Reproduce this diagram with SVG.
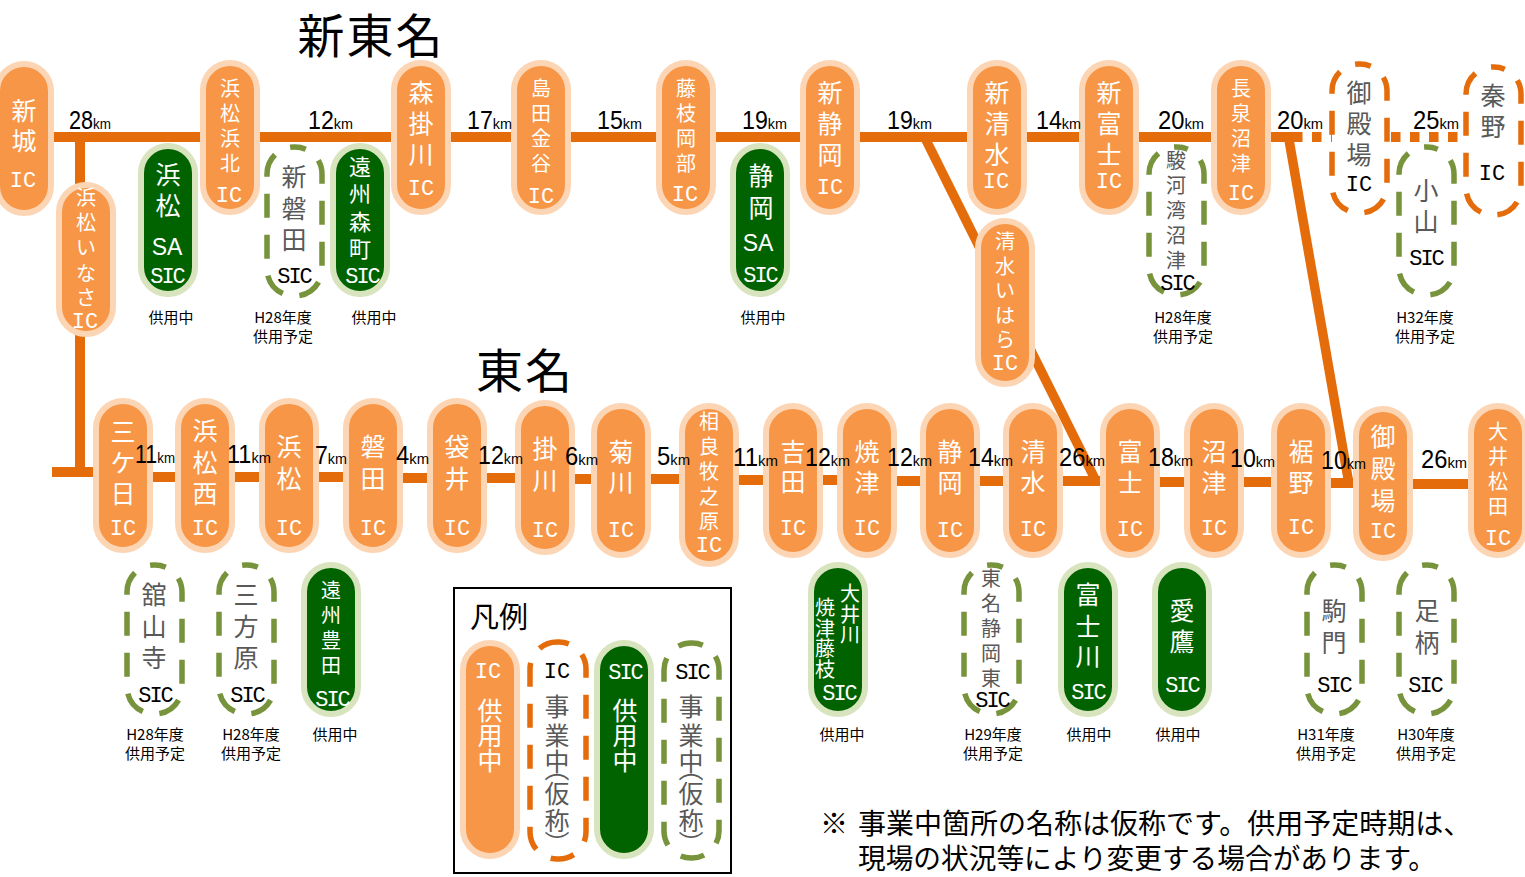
<svg xmlns="http://www.w3.org/2000/svg" width="1525" height="877" viewBox="0 0 1525 877">
<style>
text{font-family:"Noto Sans CJK JP","Noto Sans",sans-serif;text-anchor:middle}
.road{stroke:#E46C0A;stroke-width:10;fill:none}
.dot{stroke-dasharray:9.5 9.5}
.ic,.sic{stroke-width:6}
.ic{fill:#F79646;stroke:#FCD5B5}
.sic{fill:#006300;stroke:#D7E4BD}
.dic,.dsic{fill:none;stroke-width:5.5;stroke-dasharray:24 17;stroke-dashoffset:12}
.dic{stroke:#E46C0A}
.dsic{stroke:#77933C}
.w{fill:#fff}.g{fill:#595959}.k{fill:#000}
.s25{font-size:25px}.s20{font-size:20px}.s22{font-size:22px}
.l{font-family:"Liberation Mono",monospace;font-size:22px}
.l3{font-family:"Liberation Mono",monospace;font-size:22px;letter-spacing:-2px}
.sa{font-family:"Liberation Sans",sans-serif;font-size:23px}
.km{font-family:"Liberation Sans",Arial,sans-serif;font-size:25px;fill:#000;text-anchor:start}
.km tspan{font-size:15.5px}
.st{font-size:15px;fill:#000}
.ttl{font-size:47px;fill:#000;letter-spacing:2px}
.note{font-size:28px;fill:#000;text-anchor:start}
</style>
<g id="connectors">
<line class="road" x1="50" y1="137" x2="202" y2="137"/>
<line class="road" x1="258" y1="137" x2="394" y2="137"/>
<line class="road" x1="449" y1="137" x2="513" y2="137"/>
<line class="road" x1="568" y1="137" x2="658" y2="137"/>
<line class="road" x1="714" y1="137" x2="802" y2="137"/>
<line class="road" x1="858" y1="137" x2="970" y2="137"/>
<line class="road" x1="1025" y1="137" x2="1082" y2="137"/>
<line class="road" x1="1137" y1="137" x2="1214" y2="137"/>
<line class="road" x1="1270" y1="137" x2="1293" y2="137"/>
<line class="road dot" x1="1293" y1="137" x2="1332" y2="137"/>
<line class="road dot" x1="1391" y1="137" x2="1463" y2="137"/>
<line class="road" x1="80" y1="132" x2="80" y2="477"/>
<line class="road" x1="52" y1="472" x2="98" y2="472"/>
<line class="road" style="stroke-width:9.5" x1="923" y1="134" x2="1097" y2="483"/>
<line class="road" style="stroke-width:9.5" x1="1288" y1="134" x2="1349" y2="484"/>
<line class="road" x1="150" y1="477" x2="178" y2="477"/>
<line class="road" x1="232" y1="477" x2="262" y2="477"/>
<line class="road" x1="316" y1="477" x2="346" y2="477"/>
<line class="road" x1="400" y1="478" x2="430" y2="478"/>
<line class="road" x1="484" y1="478" x2="518" y2="478"/>
<line class="road" x1="572" y1="479" x2="594" y2="479"/>
<line class="road" x1="648" y1="479" x2="682" y2="479"/>
<line class="road" x1="736" y1="480" x2="766" y2="480"/>
<line class="road" x1="820" y1="480" x2="840" y2="480"/>
<line class="road" x1="894" y1="481" x2="923" y2="481"/>
<line class="road" x1="977" y1="481" x2="1006" y2="481"/>
<line class="road" x1="1060" y1="481" x2="1103" y2="481"/>
<line class="road" x1="1157" y1="482" x2="1187" y2="482"/>
<line class="road" x1="1241" y1="482" x2="1274" y2="482"/>
<line class="road" x1="1328" y1="483" x2="1356" y2="483"/>
<line class="road" x1="1410" y1="484" x2="1471" y2="484"/>
</g>
<g id="titles">
<text class="ttl" x="371" y="53">新東名</text>
<text class="ttl" x="525" y="388">東名</text>
</g>
<g id="shinichi"><rect class="ic" x="-3" y="64" width="54" height="149" rx="27"/><text class="w s25" x="24 24" y="120 150">新城</text><text class="w l" x="23" y="187">IC</text></g>
<g id="hamamatsu-inasa"><rect class="ic" x="59" y="185" width="54" height="149" rx="27"/><text class="w s20" x="86 86 86 86 86" y="205 230 255 281 305">浜松いなさ</text><text class="w l" x="85" y="328">IC</text></g>
<g id="hamamatsu-sa"><rect class="sic" x="141" y="146" width="54" height="148" rx="27"/><text class="w s25" x="168 168" y="184 215">浜松</text><text class="w sa" x="167" y="255">SA</text><text class="w l3" x="167" y="283">SIC</text></g>
<g id="hamamatsu-hamakita"><rect class="ic" x="203" y="63" width="54" height="149" rx="27"/><text class="w s20" x="230 230 230 230" y="96 121 146 171">浜松浜北</text><text class="w l" x="229" y="202">IC</text></g>
<g id="shin-iwata"><rect class="dsic" x="267" y="147" width="55" height="149" rx="27"/><text class="g s25" x="294 294 294" y="186 218 249">新磐田</text><text class="k l3" x="294" y="283">SIC</text></g>
<g id="enshu-morimachi"><rect class="sic" x="333" y="146" width="54" height="148" rx="27"/><text class="w s22" x="360 360 360 360" y="175 202 230 257">遠州森町</text><text class="w l3" x="362" y="283">SIC</text></g>
<g id="mori-kakegawa"><rect class="ic" x="394" y="63" width="54" height="149" rx="27"/><text class="w s25" x="421 421 421" y="102 133 164">森掛川</text><text class="w l" x="421" y="195">IC</text></g>
<g id="shimada-kanaya"><rect class="ic" x="514" y="63" width="54" height="149" rx="27"/><text class="w s20" x="541 541 541 541" y="96 121 146 171">島田金谷</text><text class="w l" x="541" y="203">IC</text></g>
<g id="fujieda-okabe"><rect class="ic" x="659" y="63" width="54" height="149" rx="27"/><text class="w s20" x="686 686 686 686" y="96 121 146 171">藤枝岡部</text><text class="w l" x="685" y="201">IC</text></g>
<g id="shizuoka-sa"><rect class="sic" x="733" y="146" width="54" height="148" rx="27"/><text class="w s25" x="761 761" y="185 217">静岡</text><text class="w sa" x="758" y="251">SA</text><text class="w l3" x="760" y="282">SIC</text></g>
<g id="shin-shizuoka"><rect class="ic" x="803" y="63" width="54" height="149" rx="27"/><text class="w s25" x="830 830 830" y="102 133 164">新静岡</text><text class="w l" x="830" y="194">IC</text></g>
<g id="shin-shimizu"><rect class="ic" x="970" y="63" width="54" height="149" rx="27"/><text class="w s25" x="997 997 997" y="102 133 164">新清水</text><text class="w l" x="996" y="188">IC</text></g>
<g id="shimizu-ihara"><rect class="ic" x="978" y="221" width="54" height="163" rx="27"/><text class="w s20" x="1005 1005 1005 1005 1005" y="249 274 298 323 347">清水いはら</text><text class="w l" x="1005" y="370">IC</text></g>
<g id="shin-fuji"><rect class="ic" x="1082" y="63" width="54" height="149" rx="27"/><text class="w s25" x="1109 1109 1109" y="102 133 164">新富士</text><text class="w l" x="1109" y="188">IC</text></g>
<g id="surugawan-numazu"><rect class="dsic" x="1149" y="147" width="55" height="148" rx="27"/><text class="g s20" x="1176 1176 1176 1176 1176" y="168 193 218 243 268">駿河湾沼津</text><text class="k l3" x="1177" y="290">SIC</text></g>
<g id="nagaizumi-numazu"><rect class="ic" x="1214" y="63" width="54" height="149" rx="27"/><text class="w s20" x="1241 1241 1241 1241" y="96 121 146 171">長泉沼津</text><text class="w l" x="1241" y="200">IC</text></g>
<g id="gotemba-shin"><rect class="dic" x="1332" y="64" width="55" height="149" rx="27"/><text class="g s25" x="1359 1359 1359" y="102 133 164">御殿場</text><text class="k l" x="1359" y="191">IC</text></g>
<g id="oyama"><rect class="dsic" x="1399" y="147" width="55" height="148" rx="27"/><text class="g s25" x="1426 1426" y="200 231">小山</text><text class="k l3" x="1426" y="265">SIC</text></g>
<g id="hadano"><rect class="dic" x="1466" y="67" width="55" height="148" rx="27"/><text class="g s25" x="1493 1493" y="105 136">秦野</text><text class="k l" x="1492" y="180">IC</text></g>

<g id="mikkabi"><rect class="ic" x="96" y="401" width="54" height="149" rx="27"/><text class="w s25" x="123 123 123" y="441 472 503">三ケ日</text><text class="w l" x="123" y="535">IC</text></g>
<g id="hamamatsu-nishi"><rect class="ic" x="178" y="401" width="54" height="149" rx="27"/><text class="w s25" x="205 205 205" y="440 472 503">浜松西</text><text class="w l" x="205" y="535">IC</text></g>
<g id="hamamatsu"><rect class="ic" x="262" y="401" width="54" height="149" rx="27"/><text class="w s25" x="289 289" y="456 488">浜松</text><text class="w l" x="289" y="535">IC</text></g>
<g id="iwata"><rect class="ic" x="346" y="401" width="54" height="149" rx="27"/><text class="w s25" x="373 373" y="456 488">磐田</text><text class="w l" x="373" y="535">IC</text></g>
<g id="fukuroi"><rect class="ic" x="430" y="401" width="54" height="149" rx="27"/><text class="w s25" x="457 457" y="456 488">袋井</text><text class="w l" x="457" y="535">IC</text></g>
<g id="kakegawa"><rect class="ic" x="518" y="403" width="54" height="149" rx="27"/><text class="w s25" x="545 545" y="458 490">掛川</text><text class="w l" x="545" y="537">IC</text></g>
<g id="kikugawa"><rect class="ic" x="594" y="406" width="54" height="149" rx="27"/><text class="w s25" x="621 621" y="461 492">菊川</text><text class="w l" x="621" y="537">IC</text></g>
<g id="sagara-makinohara"><rect class="ic" x="682" y="406" width="54" height="158" rx="27"/><text class="w s20" x="709 709 709 709 709" y="429 454 479 504 529">相良牧之原</text><text class="w l" x="709" y="552">IC</text></g>
<g id="yoshida"><rect class="ic" x="766" y="406" width="54" height="149" rx="27"/><text class="w s25" x="793 793" y="461 491">吉田</text><text class="w l" x="793" y="535">IC</text></g>
<g id="yaizu"><rect class="ic" x="840" y="406" width="54" height="149" rx="27"/><text class="w s25" x="867 867" y="461 492">焼津</text><text class="w l" x="867" y="535">IC</text></g>
<g id="shizuoka"><rect class="ic" x="923" y="406" width="54" height="149" rx="27"/><text class="w s25" x="950 950" y="461 492">静岡</text><text class="w l" x="950" y="537">IC</text></g>
<g id="shimizu"><rect class="ic" x="1006" y="406" width="54" height="149" rx="27"/><text class="w s25" x="1033 1033" y="461 492">清水</text><text class="w l" x="1033" y="536">IC</text></g>
<g id="fuji"><rect class="ic" x="1103" y="406" width="54" height="149" rx="27"/><text class="w s25" x="1130 1130" y="461 492">富士</text><text class="w l" x="1130" y="536">IC</text></g>
<g id="numazu"><rect class="ic" x="1187" y="406" width="54" height="149" rx="27"/><text class="w s25" x="1214 1214" y="461 492">沼津</text><text class="w l" x="1214" y="535">IC</text></g>
<g id="susono"><rect class="ic" x="1274" y="406" width="54" height="149" rx="27"/><text class="w s25" x="1301 1301" y="461 492">裾野</text><text class="w l" x="1301" y="534">IC</text></g>
<g id="gotemba"><rect class="ic" x="1356" y="409" width="54" height="149" rx="27"/><text class="w s25" x="1383 1383 1383" y="446 478 510">御殿場</text><text class="w l" x="1383" y="538">IC</text></g>
<g id="oimatsuda"><rect class="ic" x="1471" y="406" width="54" height="149" rx="27"/><text class="w s20" x="1498 1498 1498 1498" y="439 464 489 514">大井松田</text><text class="w l" x="1498" y="545">IC</text></g>

<g id="kanzanji"><rect class="dsic" x="127" y="565" width="55" height="149" rx="27"/><text class="g s25" x="154 154 154" y="604 636 667">舘山寺</text><text class="k l3" x="155" y="702">SIC</text></g>
<g id="mikatahara"><rect class="dsic" x="219" y="565" width="55" height="149" rx="27"/><text class="g s25" x="246 246 246" y="604 636 667">三方原</text><text class="k l3" x="247" y="702">SIC</text></g>
<g id="enshu-toyoda"><rect class="sic" x="304" y="565" width="54" height="149" rx="27"/><text class="w s20" x="331 331 331 331" y="598 623 648 673">遠州豊田</text><text class="w l3" x="332" y="706">SIC</text></g>
<g id="oigawa-yaizu-fujieda"><rect class="sic" x="811" y="565" width="54" height="149" rx="27"/><text class="w s20" x="850 850 850" y="601 622 642">大井川</text><text class="w s20" x="825 825 825 825" y="615 636 656 677">焼津藤枝</text><text class="w l3" x="839" y="700">SIC</text></g>
<g id="tomei-shizuoka-higashi"><rect class="dsic" x="964" y="565" width="55" height="149" rx="27"/><text class="g s20" x="991 991 991 991 991" y="586 611 636 661 686">東名静岡東</text><text class="k l3" x="992" y="707">SIC</text></g>
<g id="fujikawa"><rect class="sic" x="1061" y="565" width="54" height="149" rx="27"/><text class="w s25" x="1088 1088 1088" y="604 636 666">富士川</text><text class="w l3" x="1088" y="699">SIC</text></g>
<g id="ashitaka"><rect class="sic" x="1155" y="565" width="54" height="149" rx="27"/><text class="w s25" x="1182 1182" y="620 651">愛鷹</text><text class="w l3" x="1182" y="692">SIC</text></g>
<g id="komakado"><rect class="dsic" x="1307" y="565" width="55" height="149" rx="27"/><text class="g s25" x="1334 1334" y="620 652">駒門</text><text class="k l3" x="1334" y="692">SIC</text></g>
<g id="ashigara"><rect class="dsic" x="1399" y="565" width="55" height="149" rx="27"/><text class="g s25" x="1427 1427" y="620 652">足柄</text><text class="k l3" x="1425" y="692">SIC</text></g>

<g id="km-labels">
<text class="km" x="69" y="129" textLength="42" lengthAdjust="spacingAndGlyphs">28<tspan>km</tspan></text>
<text class="km" x="308" y="129" textLength="45" lengthAdjust="spacingAndGlyphs">12<tspan>km</tspan></text>
<text class="km" x="467" y="129" textLength="45" lengthAdjust="spacingAndGlyphs">17<tspan>km</tspan></text>
<text class="km" x="597" y="129" textLength="45" lengthAdjust="spacingAndGlyphs">15<tspan>km</tspan></text>
<text class="km" x="742" y="129" textLength="45" lengthAdjust="spacingAndGlyphs">19<tspan>km</tspan></text>
<text class="km" x="887" y="129" textLength="45" lengthAdjust="spacingAndGlyphs">19<tspan>km</tspan></text>
<text class="km" x="1036" y="129" textLength="45" lengthAdjust="spacingAndGlyphs">14<tspan>km</tspan></text>
<text class="km" x="1158" y="129" textLength="46" lengthAdjust="spacingAndGlyphs">20<tspan>km</tspan></text>
<text class="km" x="1277" y="129" textLength="46" lengthAdjust="spacingAndGlyphs">20<tspan>km</tspan></text>
<text class="km" x="1413" y="129" textLength="46" lengthAdjust="spacingAndGlyphs">25<tspan>km</tspan></text>
<text class="km" x="135" y="463" textLength="40" lengthAdjust="spacingAndGlyphs">11<tspan>km</tspan></text>
<text class="km" x="227" y="463" textLength="44" lengthAdjust="spacingAndGlyphs">11<tspan>km</tspan></text>
<text class="km" x="315" y="464" textLength="32" lengthAdjust="spacingAndGlyphs">7<tspan>km</tspan></text>
<text class="km" x="396" y="464" textLength="33" lengthAdjust="spacingAndGlyphs">4<tspan>km</tspan></text>
<text class="km" x="478" y="464" textLength="45" lengthAdjust="spacingAndGlyphs">12<tspan>km</tspan></text>
<text class="km" x="565" y="465" textLength="33" lengthAdjust="spacingAndGlyphs">6<tspan>km</tspan></text>
<text class="km" x="657" y="465" textLength="33" lengthAdjust="spacingAndGlyphs">5<tspan>km</tspan></text>
<text class="km" x="733" y="466" textLength="45" lengthAdjust="spacingAndGlyphs">11<tspan>km</tspan></text>
<text class="km" x="805" y="466" textLength="45" lengthAdjust="spacingAndGlyphs">12<tspan>km</tspan></text>
<text class="km" x="887" y="466" textLength="45" lengthAdjust="spacingAndGlyphs">12<tspan>km</tspan></text>
<text class="km" x="968" y="466" textLength="45" lengthAdjust="spacingAndGlyphs">14<tspan>km</tspan></text>
<text class="km" x="1059" y="466" textLength="46" lengthAdjust="spacingAndGlyphs">26<tspan>km</tspan></text>
<text class="km" x="1148" y="466" textLength="45" lengthAdjust="spacingAndGlyphs">18<tspan>km</tspan></text>
<text class="km" x="1230" y="467" textLength="45" lengthAdjust="spacingAndGlyphs">10<tspan>km</tspan></text>
<text class="km" x="1321" y="469" textLength="45" lengthAdjust="spacingAndGlyphs">10<tspan>km</tspan></text>
<text class="km" x="1421" y="468" textLength="46" lengthAdjust="spacingAndGlyphs">26<tspan>km</tspan></text>
</g>
<g id="status">
<text class="st" x="171" y="323">供用中</text>
<text class="st" x="283" y="323">H28年度</text><text class="st" x="283" y="342">供用予定</text>
<text class="st" x="374" y="323">供用中</text>
<text class="st" x="763" y="323">供用中</text>
<text class="st" x="1183" y="323">H28年度</text><text class="st" x="1183" y="342">供用予定</text>
<text class="st" x="1425" y="323">H32年度</text><text class="st" x="1425" y="342">供用予定</text>
<text class="st" x="155" y="740">H28年度</text><text class="st" x="155" y="759">供用予定</text>
<text class="st" x="251" y="740">H28年度</text><text class="st" x="251" y="759">供用予定</text>
<text class="st" x="335" y="740">供用中</text>
<text class="st" x="842" y="740">供用中</text>
<text class="st" x="993" y="740">H29年度</text><text class="st" x="993" y="759">供用予定</text>
<text class="st" x="1089" y="740">供用中</text>
<text class="st" x="1178" y="740">供用中</text>
<text class="st" x="1326" y="740">H31年度</text><text class="st" x="1326" y="759">供用予定</text>
<text class="st" x="1426" y="740">H30年度</text><text class="st" x="1426" y="759">供用予定</text>
</g>
<g id="legend">
<rect x="454" y="588" width="277" height="285" fill="#fff" stroke="#000" stroke-width="2"/>
<text x="499" y="628" style="font-size:29px;fill:#000">凡例</text>
<g id="legend-ic"><rect class="ic" x="463" y="643" width="54" height="213" rx="27"/><text class="w l" x="488" y="678">IC</text><text class="w s25" x="490 490 490" y="720 745 770">供用中</text></g>
<g id="legend-ic-planned"><rect class="dic" x="530" y="642" width="56" height="217" rx="27"/><text class="k l" x="557" y="678">IC</text><text class="g s25" x="557 557 557 557 557 557 557" y="716 745 771 778 803 830 853">事業中︵仮称︶</text></g>
<g id="legend-sic"><rect class="sic" x="597" y="643" width="54" height="213" rx="27"/><text class="w l3" x="625" y="679">SIC</text><text class="w s25" x="625 625 625" y="720 745 770">供用中</text></g>
<g id="legend-sic-planned"><rect class="dsic" x="664" y="643" width="55" height="215" rx="27"/><text class="k l3" x="692" y="679">SIC</text><text class="g s25" x="691 691 691 691 691 691 691" y="716 745 771 778 803 830 853">事業中︵仮称︶</text></g>
</g>
<g id="note">
<text class="note" x="820" y="834">※<tspan x="858">事業中箇所の名称は仮称です。供用予定時期は、</tspan></text>
<text class="note" x="858" y="869" textLength="578" lengthAdjust="spacingAndGlyphs">現場の状況等により変更する場合があります。</text>
</g>
</svg>
